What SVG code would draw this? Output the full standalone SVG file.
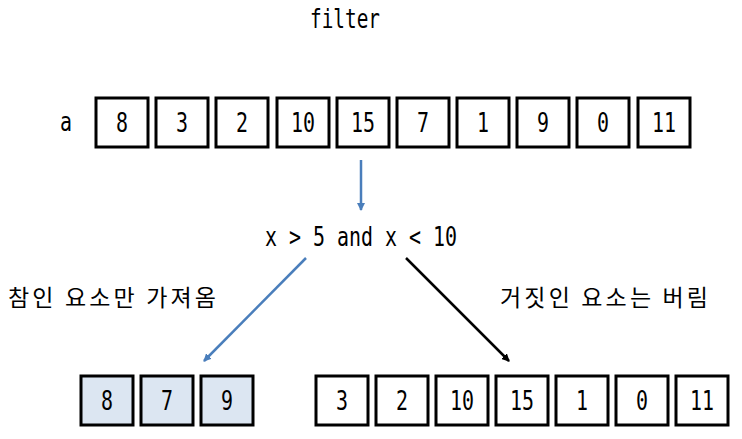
<svg xmlns="http://www.w3.org/2000/svg" width="742" height="439" viewBox="0 0 742 439">
<style>
.t{font-family:"DejaVu Sans Mono","Liberation Mono",monospace;font-size:26px;fill:#000;text-anchor:middle}
.k{font-family:"Noto Sans CJK KR","Noto Sans",sans-serif;font-size:23px;fill:#000}
.b rect{fill:#fff;stroke:#000;stroke-width:3}
.b.hl rect{fill:#dce6f2}
</style>
<defs>
<marker id="ab" markerWidth="8" markerHeight="8" refX="7" refY="4" orient="auto" markerUnits="userSpaceOnUse">
<path d="M0,0 L8,4 L0,8 z" fill="#4a7ebb"/>
</marker>
<marker id="ak" markerWidth="8" markerHeight="8" refX="7" refY="4" orient="auto" markerUnits="userSpaceOnUse">
<path d="M0,0 L8,4 L0,8 z" fill="#000"/>
</marker>
</defs>
<text class="t" x="345" y="28" textLength="70" lengthAdjust="spacingAndGlyphs">filter</text>
<text class="t" x="66" y="131" textLength="12" lengthAdjust="spacingAndGlyphs">a</text>
<g id="top">
<g id="a0" class="b"><rect x="96" y="98" width="52" height="49"/><text class="t" x="122" y="132" textLength="12" lengthAdjust="spacingAndGlyphs">8</text></g>
<g id="a1" class="b"><rect x="156" y="98" width="52" height="49"/><text class="t" x="182" y="132" textLength="12" lengthAdjust="spacingAndGlyphs">3</text></g>
<g id="a2" class="b"><rect x="216" y="98" width="52" height="49"/><text class="t" x="242" y="132" textLength="12" lengthAdjust="spacingAndGlyphs">2</text></g>
<g id="a3" class="b"><rect x="277" y="98" width="52" height="49"/><text class="t" x="303" y="132" textLength="24" lengthAdjust="spacingAndGlyphs">10</text></g>
<g id="a4" class="b"><rect x="337" y="98" width="52" height="49"/><text class="t" x="363" y="132" textLength="24" lengthAdjust="spacingAndGlyphs">15</text></g>
<g id="a5" class="b"><rect x="397" y="98" width="52" height="49"/><text class="t" x="423" y="132" textLength="12" lengthAdjust="spacingAndGlyphs">7</text></g>
<g id="a6" class="b"><rect x="457" y="98" width="52" height="49"/><text class="t" x="483" y="132" textLength="12" lengthAdjust="spacingAndGlyphs">1</text></g>
<g id="a7" class="b"><rect x="517" y="98" width="52" height="49"/><text class="t" x="543" y="132" textLength="12" lengthAdjust="spacingAndGlyphs">9</text></g>
<g id="a8" class="b"><rect x="577" y="98" width="52" height="49"/><text class="t" x="603" y="132" textLength="12" lengthAdjust="spacingAndGlyphs">0</text></g>
<g id="a9" class="b"><rect x="638" y="98" width="52" height="49"/><text class="t" x="664" y="132" textLength="24" lengthAdjust="spacingAndGlyphs">11</text></g>
</g>
<g id="cond"><text class="t" x="361" y="246" textLength="192" lengthAdjust="spacingAndGlyphs">x &gt; 5 and x &lt; 10</text></g>
<g id="lblT"><text class="k" x="8" y="306" textLength="208" lengthAdjust="spacing">참인 요소만 가져옴</text></g>
<g id="lblF"><text class="k" x="500" y="306" textLength="208" lengthAdjust="spacing">거짓인 요소는 버림</text></g>
<g id="true">
<g id="t0" class="b hl"><rect x="81" y="376" width="52" height="49"/><text class="t" x="107" y="410" textLength="12" lengthAdjust="spacingAndGlyphs">8</text></g>
<g id="t1" class="b hl"><rect x="141" y="376" width="52" height="49"/><text class="t" x="167" y="410" textLength="12" lengthAdjust="spacingAndGlyphs">7</text></g>
<g id="t2" class="b hl"><rect x="201" y="376" width="52" height="49"/><text class="t" x="227" y="410" textLength="12" lengthAdjust="spacingAndGlyphs">9</text></g>
</g>
<g id="false">
<g id="f0" class="b"><rect x="316" y="376" width="52" height="49"/><text class="t" x="342" y="410" textLength="12" lengthAdjust="spacingAndGlyphs">3</text></g>
<g id="f1" class="b"><rect x="376" y="376" width="52" height="49"/><text class="t" x="402" y="410" textLength="12" lengthAdjust="spacingAndGlyphs">2</text></g>
<g id="f2" class="b"><rect x="436" y="376" width="52" height="49"/><text class="t" x="462" y="410" textLength="24" lengthAdjust="spacingAndGlyphs">10</text></g>
<g id="f3" class="b"><rect x="496" y="376" width="52" height="49"/><text class="t" x="522" y="410" textLength="24" lengthAdjust="spacingAndGlyphs">15</text></g>
<g id="f4" class="b"><rect x="556" y="376" width="52" height="49"/><text class="t" x="582" y="410" textLength="12" lengthAdjust="spacingAndGlyphs">1</text></g>
<g id="f5" class="b"><rect x="616" y="376" width="52" height="49"/><text class="t" x="642" y="410" textLength="12" lengthAdjust="spacingAndGlyphs">0</text></g>
<g id="f6" class="b"><rect x="676" y="376" width="52" height="49"/><text class="t" x="702" y="410" textLength="24" lengthAdjust="spacingAndGlyphs">11</text></g>
</g>
<g id="connectors" fill="none" stroke-width="2.5">
<line x1="361" y1="160" x2="361" y2="210" stroke="#4a7ebb" marker-end="url(#ab)"/>
<line x1="306" y1="258" x2="204" y2="361" stroke="#4a7ebb" marker-end="url(#ab)"/>
<line x1="406" y1="258" x2="509" y2="361" stroke="#000" marker-end="url(#ak)"/>
</g>
</svg>
